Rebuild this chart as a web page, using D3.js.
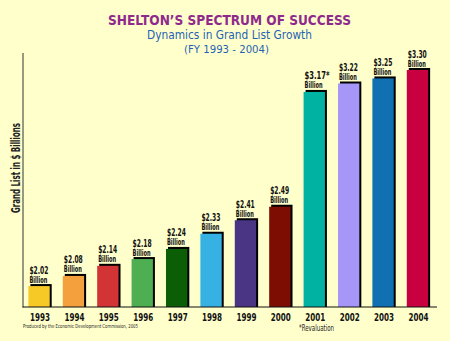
<!DOCTYPE html>
<html><head><meta charset="utf-8">
<script src="https://cdn.jsdelivr.net/npm/d3@7/dist/d3.min.js"></script>
<style>html,body{margin:0;padding:0;background:#FFFFCC;}svg{display:block;}</style>
</head><body>
<script>
const years = ["1993","1994","1995","1996","1997","1998","1999","2000","2001","2002","2003","2004"];
const values = [2.02,2.08,2.14,2.18,2.24,2.33,2.41,2.49,3.17,3.22,3.25,3.30];
const valueLabels = ["$2.02","$2.08","$2.14","$2.18","$2.24","$2.33","$2.41","$2.49","$3.17*","$3.22","$3.25","$3.30"];
const colors = ["#F6C926","#F4A03C","#D23334","#4DAE52","#0B5E06","#35B2E3","#4A3585","#7D0D02","#00B2A2","#A596F7","#1170B2","#C9003F"];

const W=450,H=341;
const svg=d3.select("body").append("svg").attr("width",W).attr("height",H);
svg.append("rect").attr("width",W).attr("height",H).attr("fill","#FFFFCC");

const font="'DejaVu Sans Condensed','DejaVu Sans',sans-serif";
const x=d3.scaleBand().domain(years).range([21.5,435]).paddingInner(0.38).paddingOuter(0.2);
const y=d3.scaleLinear().domain([1.896,3.30]).range([307,70]);

// titles
svg.append("text").attr("x",229.5).attr("y",25).attr("text-anchor","middle")
  .attr("font-family","'DejaVu Sans',sans-serif").attr("font-weight","bold").attr("font-size",13.5)
  .attr("fill","#8E2A8C").attr("textLength",243).attr("lengthAdjust","spacingAndGlyphs")
  .text("SHELTON’S SPECTRUM OF SUCCESS");
svg.append("text").attr("x",229.5).attr("y",38.5).attr("text-anchor","middle")
  .attr("font-family","'DejaVu Sans',sans-serif").attr("font-size",11.5)
  .attr("fill","#1F63B5").attr("textLength",165).attr("lengthAdjust","spacingAndGlyphs")
  .text("Dynamics in Grand List Growth");
svg.append("text").attr("x",226.5).attr("y",53).attr("text-anchor","middle")
  .attr("font-family","'DejaVu Sans',sans-serif").attr("font-size",10.5)
  .attr("fill","#1F63B5").attr("textLength",85).attr("lengthAdjust","spacingAndGlyphs")
  .text("(FY 1993 - 2004)");

// y label
svg.append("text").attr("transform","translate(19.5,168) rotate(-90)").attr("text-anchor","middle")
  .attr("font-family",font).attr("font-size",12.5).attr("font-weight","bold")
  .attr("fill","#222").attr("textLength",90).attr("lengthAdjust","spacingAndGlyphs")
  .text("Grand List in $ Billions");

// bars
const g=svg.append("g");
const bw=x.bandwidth();
g.selectAll("rect.sh").data(values).join("rect").attr("class","sh")
  .attr("x",(d,i)=>x(years[i])+2).attr("y",d=>y(d)-2)
  .attr("width",bw).attr("height",d=>307-y(d)+2).attr("fill","#000");
g.selectAll("rect.bar").data(values).join("rect").attr("class","bar")
  .attr("x",(d,i)=>x(years[i])).attr("y",d=>y(d))
  .attr("width",bw).attr("height",d=>307-y(d)).attr("fill",(d,i)=>colors[i]);

// value labels
g.selectAll("text.v").data(values).join("text").attr("class","v")
  .attr("x",(d,i)=>x(years[i])+1).attr("y",d=>y(d)-12.5)
  .attr("font-family",font).attr("font-weight","bold").attr("font-size",10)
  .attr("fill","#111").attr("textLength",(d,i)=>valueLabels[i].length>5?25:19)
  .attr("lengthAdjust","spacingAndGlyphs").text((d,i)=>valueLabels[i]);
g.selectAll("text.b").data(values).join("text").attr("class","b")
  .attr("x",(d,i)=>x(years[i])+1).attr("y",d=>y(d)-3.5)
  .attr("font-family",font).attr("font-weight","bold").attr("font-size",8.5)
  .attr("fill","#111").attr("textLength",18).attr("lengthAdjust","spacingAndGlyphs").text("Billion");

// axes lines
svg.append("line").attr("x1",23).attr("x2",23).attr("y1",53).attr("y2",307.5).attr("stroke","#333").attr("stroke-width",1);
svg.append("line").attr("x1",22.5).attr("x2",437).attr("y1",307).attr("y2",307).attr("stroke","#111").attr("stroke-width",1.2);

// year labels
const xAxis=d3.axisBottom(x).tickSize(0).tickPadding(0);
const ax=svg.append("g").attr("transform","translate(1,307)").call(xAxis);
ax.select(".domain").remove();
ax.selectAll("text").attr("dy",null).attr("y",13.5).attr("font-family",font).attr("font-weight","bold")
  .attr("font-size",11).attr("fill","#111").attr("textLength",20).attr("lengthAdjust","spacingAndGlyphs");

// footnotes
svg.append("text").attr("x",23).attr("y",328).attr("font-family",font).attr("font-size",5.5)
  .attr("fill","#222").attr("textLength",115).attr("lengthAdjust","spacingAndGlyphs")
  .text("Produced by the Economic Development Commission, 2005");
svg.append("text").attr("x",299).attr("y",330.5).attr("font-family",font).attr("font-size",8)
  .attr("fill","#222").attr("textLength",35).attr("lengthAdjust","spacingAndGlyphs")
  .text("*Revaluation");
</script>
</body></html>
